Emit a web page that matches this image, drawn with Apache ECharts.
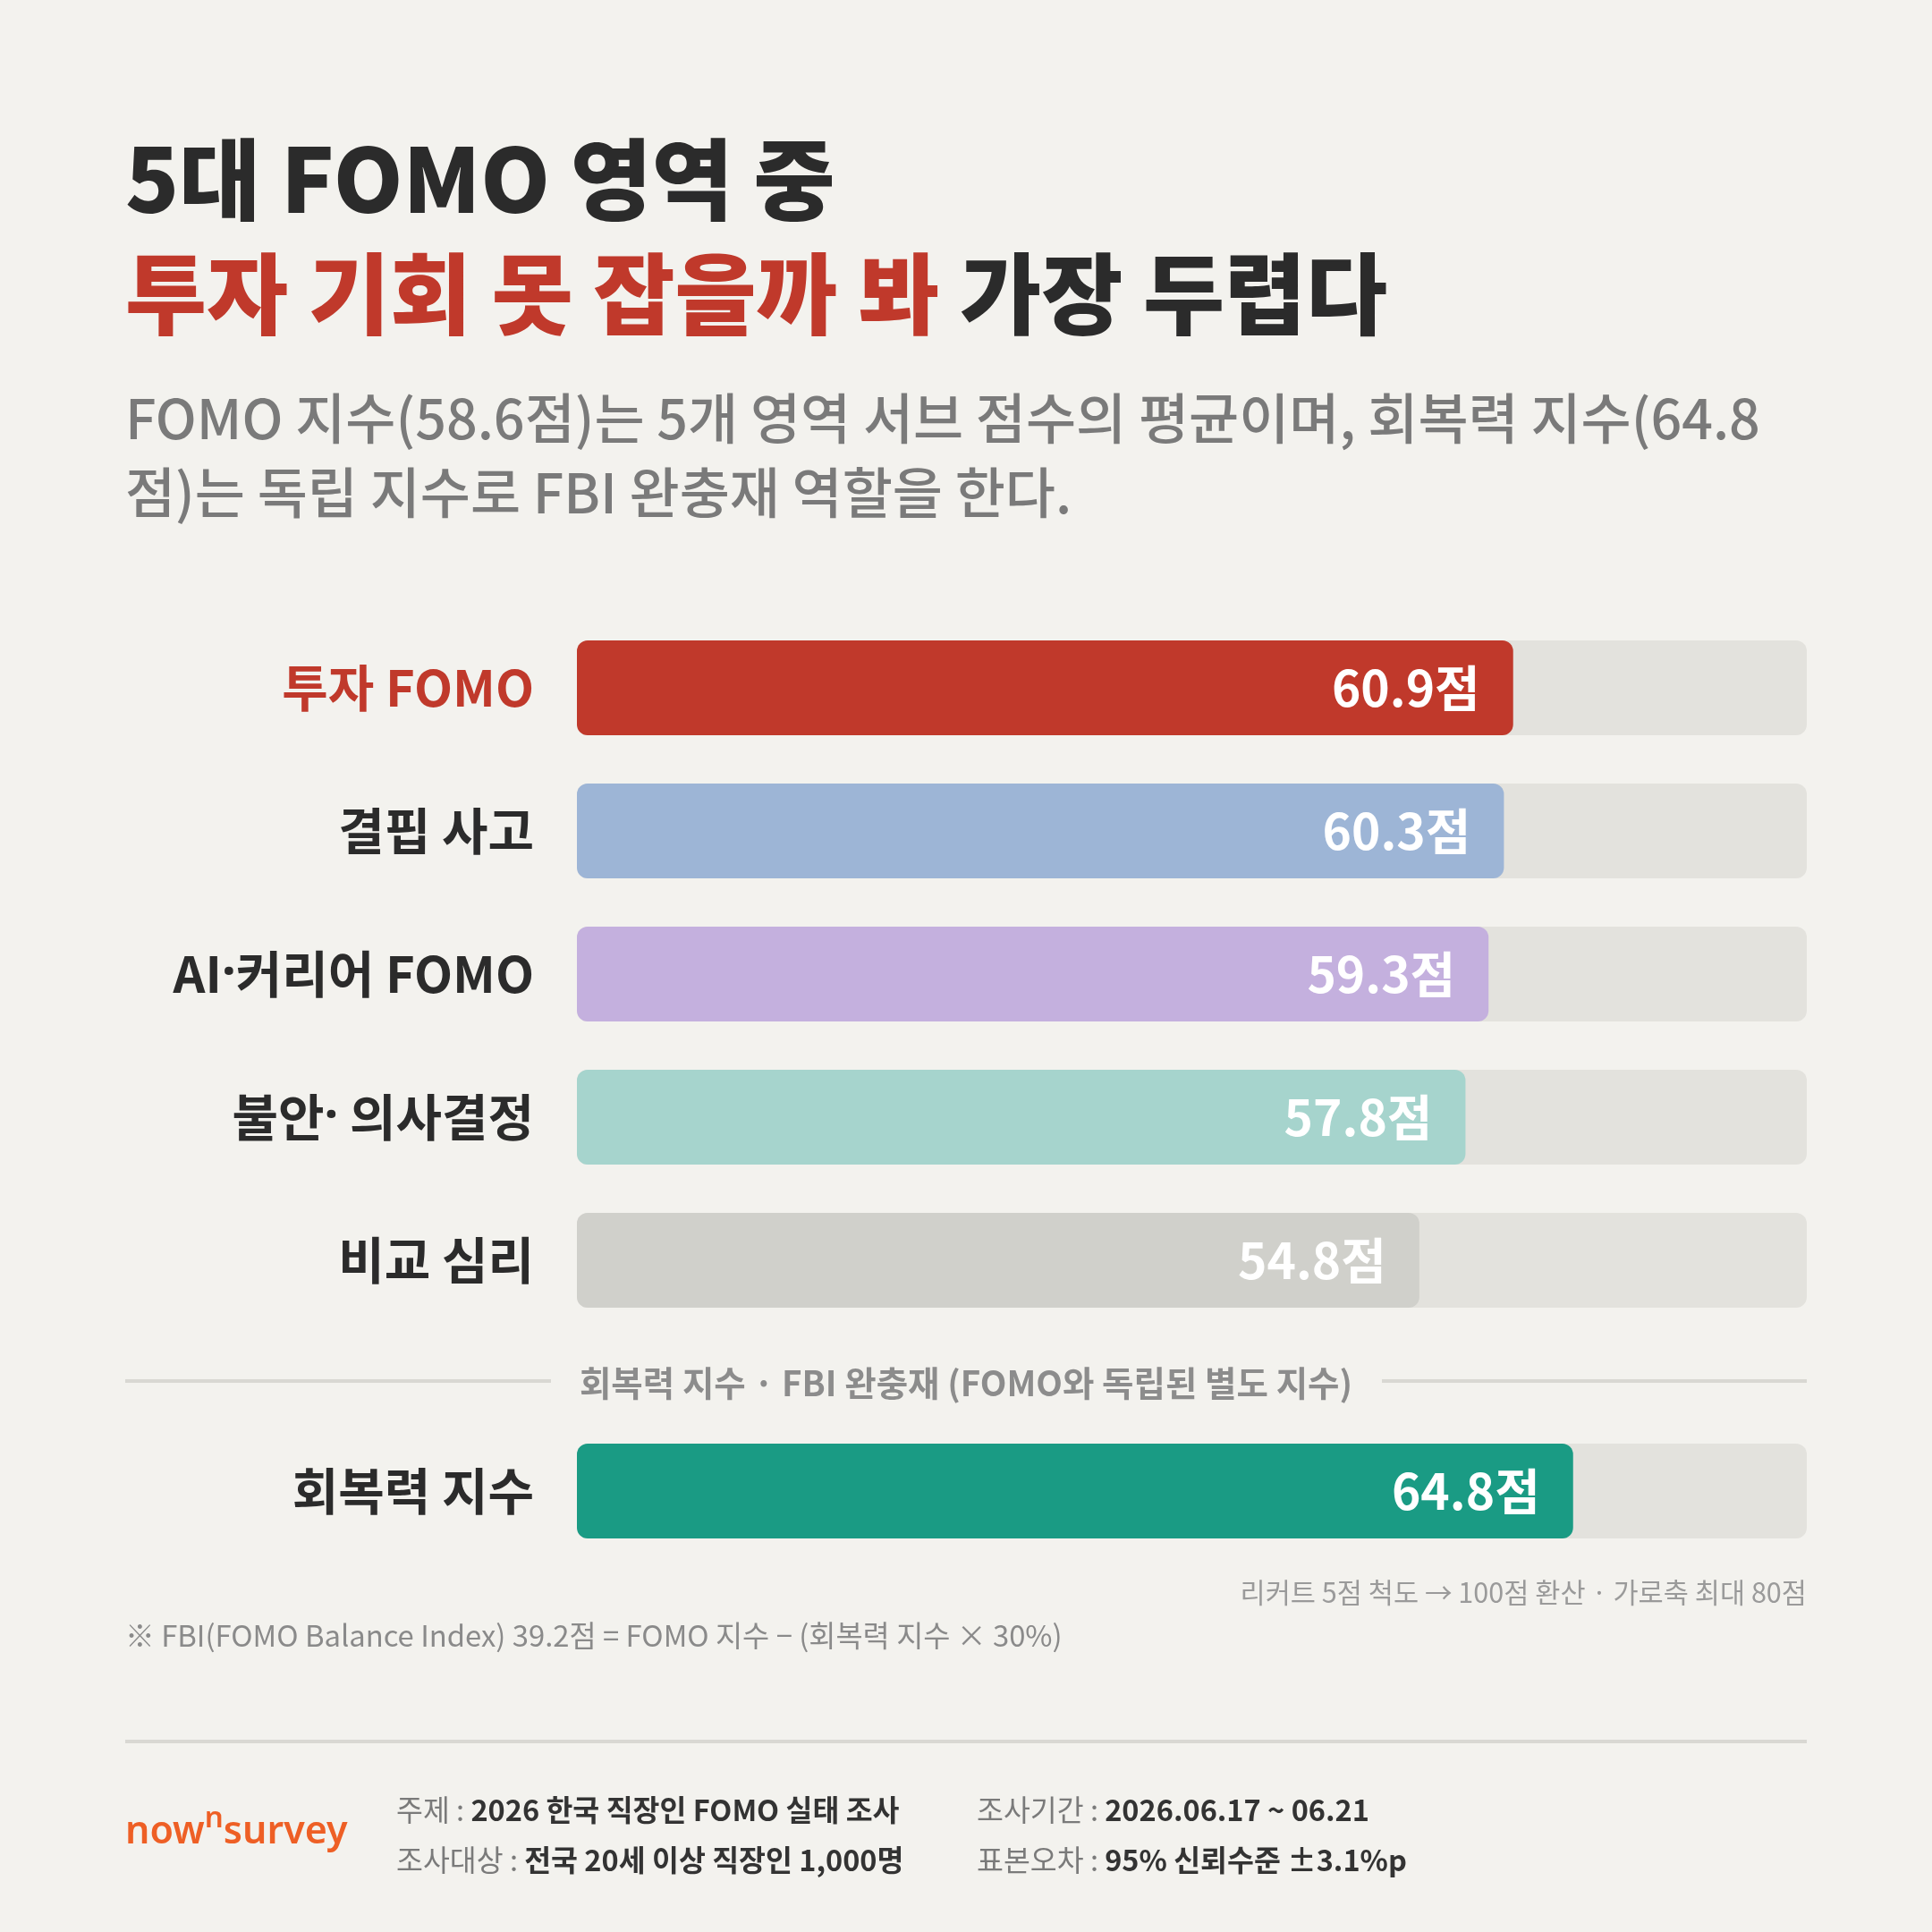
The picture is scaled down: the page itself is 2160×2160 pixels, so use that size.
<!DOCTYPE html>
<html>
<head>
<meta charset="utf-8">
<script src="https://cdn.jsdelivr.net/npm/echarts@6/dist/echarts.min.js"></script>
<style>
html,body{margin:0;padding:0;background:#f3f2ee;}
#c{width:2160px;height:2160px;}
</style>
</head>
<body>
<div id="c"></div>
<script>
// ---- data ----
const categories = ['투자 FOMO', '결핍 사고', 'AI·커리어 FOMO', '불안· 의사결정', '비교 심리'];
const scores = [60.9, 60.3, 59.3, 57.8, 54.8];
const barColors = ['#c0392b', '#9db5d6', '#c4b0de', '#a6d4cd', '#d0d0cb'];
const resilienceCategory = ['회복력 지수'];
const resilienceScore = [64.8];
const axisMax = 80;

const FF = '"Noto Sans CJK KR", "Noto Sans", sans-serif';
const FL = '"Noto Sans", sans-serif';
const chart = echarts.init(document.getElementById('c'), null, {renderer: 'canvas'});

const barLabel = {
  show: true, position: 'insideRight', distance: 37,
  formatter: p => p.value + '점',
  color: '#ffffff', fontSize: 55, fontWeight: 'bold', fontFamily: FF
};
const catLabel = {
  margin: 48, fontFamily: FF,
  rich: {
    r: {color: '#c0392b', fontSize: 56, fontWeight: 'bold', fontFamily: FF},
    d: {color: '#2b2b2b', fontSize: 56, fontWeight: 'bold', fontFamily: FF},
    p: {color: '#2b2b2b', fontSize: 56, fontWeight: 'bold', fontFamily: FL}
  }
};
function catFmt(v, i) {
  const st = i === 0 ? 'r' : 'd';
  return v.split('·').map(s => '{' + st + '|' + s + '}').join('{p|·}');
}

function txt(x, y, text, size, color, weight, align) {
  return {type: 'text', x: x, y: y, style: {
    text: text, fontSize: size, fontFamily: FF, fontWeight: weight || 'normal',
    fill: color, align: align || 'left', verticalAlign: 'middle'
  }};
}
function hline(x1, x2, y, color, w) {
  return {type: 'line', shape: {x1: x1, y1: y, x2: x2, y2: y}, style: {stroke: color, lineWidth: w}};
}
function footer(x, y, label, value) {
  return {type: 'text', x: x, y: y, style: {
    text: '{l|' + label + ' : }{v|' + value + '}', verticalAlign: 'middle', align: 'left',
    rich: {
      l: {fill: '#7a7a7a', color: '#7a7a7a', fontSize: 32.5, fontFamily: FF},
      v: {fill: '#333333', color: '#333333', fontSize: 32.5, fontFamily: FF, fontWeight: 'bold'}
    }}};
}

const option = {
  backgroundColor: '#f3f2ee',
  animation: false,
  grid: [
    {left: 645, right: 140, top: 689, height: 800, outerBoundsMode: 'none', containLabel: false},
    {left: 645, right: 140, top: 1587, height: 160, outerBoundsMode: 'none', containLabel: false}
  ],
  xAxis: [
    {type: 'value', gridIndex: 0, min: 0, max: axisMax, show: false},
    {type: 'value', gridIndex: 1, min: 0, max: axisMax, show: false}
  ],
  yAxis: [
    {type: 'category', gridIndex: 0, data: categories, inverse: true,
     axisLine: {show: false}, axisTick: {show: false}, splitLine: {show: false},
     axisLabel: Object.assign({}, catLabel, {formatter: catFmt})},
    {type: 'category', gridIndex: 1, data: resilienceCategory, inverse: true,
     axisLine: {show: false}, axisTick: {show: false}, splitLine: {show: false},
     axisLabel: Object.assign({}, catLabel, {formatter: v => '{d|' + v + '}'})}
  ],
  series: [
    {type: 'bar', xAxisIndex: 0, yAxisIndex: 0, barWidth: 106,
     data: scores.map((v, i) => ({value: v, itemStyle: {color: barColors[i]}})),
     itemStyle: {borderRadius: 12},
     showBackground: true, backgroundStyle: {color: '#e3e2dd', borderRadius: 12},
     label: barLabel},
    {type: 'bar', xAxisIndex: 1, yAxisIndex: 1, barWidth: 106,
     data: resilienceScore.map(v => ({value: v, itemStyle: {color: '#1a9b84'}})),
     itemStyle: {borderRadius: 12},
     showBackground: true, backgroundStyle: {color: '#e3e2dd', borderRadius: 12},
     label: barLabel}
  ],
  graphic: [
    txt(140, 200, '5대 FOMO 영역 중', 99, '#2b2b2b', 900),
    {type: 'text', x: 140, y: 328, style: {
      text: '{r|투자 기회 못 잡을까 봐 }{d|가장 두렵다}', fontSize: 99, fontFamily: FF, fontWeight: 900,
      verticalAlign: 'middle', align: 'left',
      rich: {
        r: {fill: '#c0392b', color: '#c0392b', fontSize: 99, fontFamily: FF, fontWeight: 900},
        d: {fill: '#2b2b2b', color: '#2b2b2b', fontSize: 99, fontFamily: FF, fontWeight: 900}
      }}},
    txt(140, 468, 'FOMO 지수(58.6점)는 5개 영역 서브 점수의 평균이며, 회복력 지수(64.8', 61, '#7a7a7a', 500),
    txt(140, 551, '점)는 독립 지수로 FBI 완충재 역할을 한다.', 61, '#7a7a7a', 500),

    hline(140, 616, 1544, '#d9d8d3', 4),
    hline(1545, 2020, 1544, '#d9d8d3', 4),
    txt(1080, 1546, '회복력 지수 · FBI 완충재 (FOMO와 독립된 별도 지수)', 38.5, '#8c8c8c', 'bold', 'center'),

    txt(2020, 1780, '리커트 5점 척도 → 100점 환산 · 가로축 최대 80점', 30.6, '#9a9a9a', 'normal', 'right'),
    txt(140, 1829, '※ FBI(FOMO Balance Index) 39.2점 = FOMO 지수 − (회복력 지수 × 30%)', 32.8, '#8a8a8a', 'normal'),

    hline(140, 2020, 1947, '#d9d8d3', 4),

    {type: 'text', x: 140, y: 2042, style: {
      text: '{a|now}{b|n}{a|survey}', verticalAlign: 'middle', align: 'left',
      rich: {
        a: {fill: '#ee5f25', color: '#ee5f25', fontSize: 43, fontFamily: FL, fontWeight: 600, lineHeight: 56, verticalAlign: 'bottom'},
        b: {fill: '#ee5f25', color: '#ee5f25', fontSize: 33, fontFamily: FL, fontWeight: 600, lineHeight: 33, verticalAlign: 'top', padding: [3, 0, 0, 0]}
      }}},

    footer(443, 2024, '주제', '2026 한국 직장인 FOMO 실태 조사'),
    footer(443, 2080, '조사대상', '전국 20세 이상 직장인 1,000명'),
    footer(1092, 2024, '조사기간', '2026.06.17 ~ 06.21'),
    footer(1092, 2080, '표본오차', '95% 신뢰수준 ±3.1%p')
  ]
};
chart.setOption(option);
</script>
</body>
</html>
